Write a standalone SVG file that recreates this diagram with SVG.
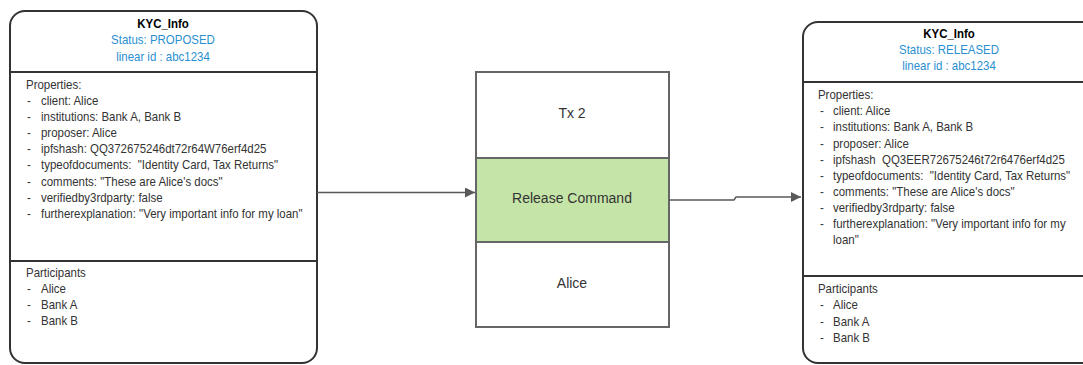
<svg xmlns="http://www.w3.org/2000/svg" width="1083" height="365" viewBox="0 0 1083 365">
  <style>
    .card { fill: #ffffff; stroke: #333333; stroke-width: 2; }
    .sep { stroke: #333333; stroke-width: 2; }
    .t { font-family: "Liberation Sans", Arial, sans-serif; font-size: 12.5px; fill: #333333; }
    .title { font-weight: bold; fill: #000000; text-anchor: middle; }
    .blue { fill: #2a8fd0; text-anchor: middle; }
    .cell { stroke: #666666; stroke-width: 2; }
    .ct { font-family: "Liberation Sans", Arial, sans-serif; font-size: 14px; fill: #333333; text-anchor: middle; }
    .wire { fill: none; stroke: #595959; stroke-width: 1.5; }
  </style>
  <defs>
    <marker id="arrow" viewBox="0 0 10 10" refX="10" refY="5" markerWidth="10" markerHeight="10" markerUnits="userSpaceOnUse" orient="auto">
      <path d="M0,0 L10,5 L0,10 z" fill="#595959"/>
    </marker>
  </defs>
  <rect width="1083" height="365" fill="#ffffff"/>

  <!-- input state -->
  <g id="kyc-proposed">
    <rect class="card" x="10" y="11" width="307" height="352" rx="15" ry="15"/>
    <line class="sep" x1="10" y1="72" x2="317" y2="72"/>
    <line class="sep" x1="10" y1="261" x2="317" y2="261"/>
    <!-- labels are set slightly condensed -->
    <g class="t" transform="scale(0.917,1)">
      <text class="title" x="177.75" y="28">KYC_Info</text>
      <text class="blue" x="177.75" y="44.5">Status: PROPOSED</text>
      <text class="blue" x="177.75" y="61.5">linear id : abc1234</text>
      <text x="28.35" y="89.5">Properties:</text>
      <text x="29.44" y="105.5">-</text><text x="44.71" y="105.5">client: Alice</text>
      <text x="29.44" y="121.5">-</text><text x="44.71" y="121.5">institutions: Bank A, Bank B</text>
      <text x="29.44" y="137.5">-</text><text x="44.71" y="137.5">proposer: Alice</text>
      <text x="29.44" y="153.5">-</text><text x="44.71" y="153.5">ipfshash: QQ372675246dt72r64W76erf4d25</text>
      <text x="29.44" y="169.5">-</text><text x="44.71" y="169.5" xml:space="preserve">typeofdocuments:  "Identity Card, Tax Returns"</text>
      <text x="29.44" y="186">-</text><text x="44.71" y="186">comments: "These are Alice's docs"</text>
      <text x="29.44" y="202">-</text><text x="44.71" y="202">verifiedby3rdparty: false</text>
      <text x="29.44" y="218">-</text><text x="44.71" y="218">furtherexplanation: "Very important info for my loan"</text>
      <text x="28.35" y="277">Participants</text>
      <text x="29.44" y="293">-</text><text x="44.71" y="293">Alice</text>
      <text x="29.44" y="309.5">-</text><text x="44.71" y="309.5">Bank A</text>
      <text x="29.44" y="325.5">-</text><text x="44.71" y="325.5">Bank B</text>
    </g>
  </g>

  <!-- transaction -->
  <g id="tx2">
    <rect class="cell" x="476" y="72" width="193" height="86" fill="#ffffff"/>
    <rect class="cell" x="476" y="158" width="193" height="84" fill="#c5e5a8"/>
    <rect class="cell" x="476" y="242" width="193" height="85" fill="#ffffff"/>
    <text class="ct" x="572" y="118">Tx 2</text>
    <text class="ct" x="572" y="203">Release Command</text>
    <text class="ct" x="572" y="288">Alice</text>
  </g>

  <!-- output state -->
  <g id="kyc-released">
    <rect class="card" x="803" y="22" width="307" height="341" rx="15" ry="15"/>
    <line class="sep" x1="803" y1="82" x2="1083" y2="82"/>
    <line class="sep" x1="803" y1="276" x2="1083" y2="276"/>
    <g class="t" transform="scale(0.917,1)">
      <text class="title" x="1034.9" y="38.5">KYC_Info</text>
      <text class="blue" x="1034.9" y="54.5">Status: RELEASED</text>
      <text class="blue" x="1034.9" y="70.5">linear id : abc1234</text>
      <text x="892.0" y="99.5">Properties:</text>
      <text x="894.2" y="115.5">-</text><text x="908.4" y="115.5">client: Alice</text>
      <text x="894.2" y="131.5">-</text><text x="908.4" y="131.5">institutions: Bank A, Bank B</text>
      <text x="894.2" y="148">-</text><text x="908.4" y="148">proposer: Alice</text>
      <text x="894.2" y="164">-</text><text x="908.4" y="164" xml:space="preserve">ipfshash  QQ3EER72675246t72r6476erf4d25</text>
      <text x="894.2" y="180">-</text><text x="908.4" y="180" xml:space="preserve">typeofdocuments:  "Identity Card, Tax Returns"</text>
      <text x="894.2" y="196.5">-</text><text x="908.4" y="196.5">comments: "These are Alice's docs"</text>
      <text x="894.2" y="212.5">-</text><text x="908.4" y="212.5">verifiedby3rdparty: false</text>
      <text x="894.2" y="228.5">-</text><text x="908.4" y="228.5">furtherexplanation: "Very important info for my</text>
      <text x="908.4" y="244.5">loan"</text>
      <text x="892.0" y="293.5">Participants</text>
      <text x="894.2" y="309.5">-</text><text x="908.4" y="309.5">Alice</text>
      <text x="894.2" y="326">-</text><text x="908.4" y="326">Bank A</text>
      <text x="894.2" y="342">-</text><text x="908.4" y="342">Bank B</text>
    </g>
  </g>

  <g id="connectors">
    <path class="wire" d="M317,192.5 L475,192.5" marker-end="url(#arrow)"/>
    <path class="wire" d="M669,200 L734,200 L736,197 L801,197" marker-end="url(#arrow)"/>
  </g>
</svg>
